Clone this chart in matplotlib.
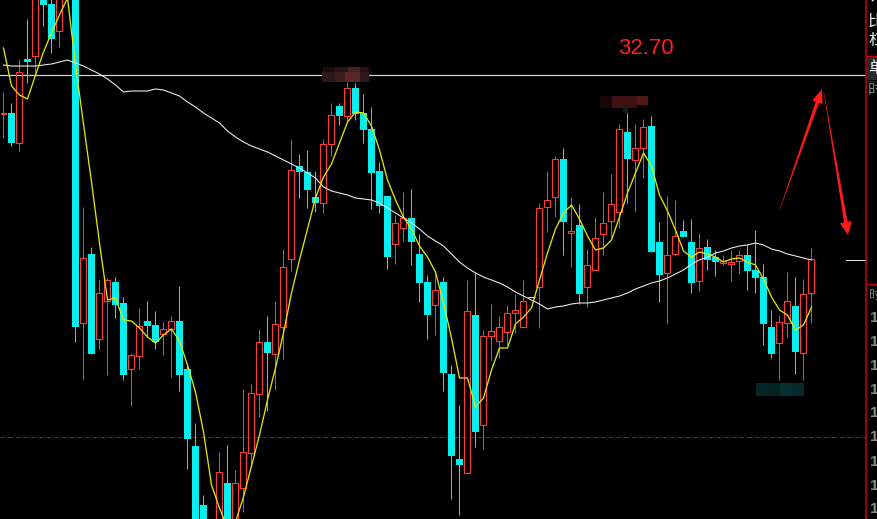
import matplotlib
matplotlib.use('Agg')
import matplotlib.pyplot as plt
from matplotlib.patches import Rectangle, Polygon
import numpy as np

# ---------------- data ----------------
opens = [32.31, 32.32, 32.02, 32.86, 32.89, 33.53, 33.41, 33.14, 33.70, 33.65,
         30.22, 30.91, 30.06, 30.44, 30.63, 30.42, 29.76, 29.89, 30.24, 30.20,
         30.11, 30.16, 30.24, 29.76, 28.99, 28.40, 28.15, 28.05, 28.62, 28.10,
         28.57, 28.92, 29.51, 30.03, 29.91, 30.18, 30.86, 31.79, 31.73, 31.48,
         31.42, 32.01, 32.39, 32.29, 32.57, 32.32, 32.16, 31.74, 31.49, 31.01,
         31.17, 31.27, 30.91, 30.63, 30.40, 30.63, 29.71, 28.86, 28.72, 30.30,
         29.20, 30.09, 30.04, 30.13, 30.32, 30.18, 30.48, 30.58, 31.38, 31.48,
         31.86, 31.12, 31.20, 30.58, 30.75, 31.11, 31.24, 31.33, 32.13, 31.85,
         31.97, 32.19, 31.03, 30.72, 30.91, 31.14, 31.03, 30.64, 30.98, 30.88,
         30.82, 30.81, 30.84, 30.90, 30.75, 30.68, 30.18, 30.02, 30.22, 30.39,
         29.92, 30.52]
highs = [32.53, 32.42, 32.86, 33.26, 33.55, 33.57, 33.48, 33.60, 34.00, 33.70,
         31.38, 30.98, 30.65, 30.67, 30.68, 30.48, 29.92, 30.37, 30.44, 30.34,
         30.23, 30.29, 30.59, 29.82, 29.22, 28.50, 28.20, 28.93, 29.00, 28.75,
         29.56, 29.61, 30.16, 30.29, 30.44, 30.96, 32.06, 31.91, 31.95, 31.74,
         32.06, 32.42, 32.42, 32.63, 32.62, 32.51, 32.38, 31.83, 31.49, 31.30,
         31.53, 31.56, 31.11, 30.70, 30.74, 30.68, 29.80, 29.40, 30.65, 30.73,
         30.15, 30.41, 30.29, 30.40, 30.51, 30.65, 30.48, 31.42, 31.74, 31.89,
         31.97, 31.48, 31.41, 30.96, 31.28, 31.53, 31.71, 32.21, 32.32, 32.21,
         32.26, 32.29, 31.23, 31.49, 31.45, 31.25, 31.26, 31.12, 31.06, 30.95,
         30.90, 30.95, 30.95, 31.00, 31.15, 30.81, 30.35, 30.30, 30.73, 30.68,
         30.66, 30.97]
lows = [32.07, 31.99, 31.94, 32.62, 32.72, 33.19, 32.92, 32.98, 33.60, 30.03,
        29.65, 29.91, 29.96, 29.70, 30.27, 29.65, 29.39, 29.76, 30.08, 29.96,
        29.90, 29.68, 29.54, 28.76, 28.00, 27.97, 27.85, 27.97, 27.95, 28.05,
        28.33, 28.78, 29.28, 29.34, 29.55, 29.86, 30.74, 31.47, 31.37, 31.33,
        31.32, 31.89, 32.20, 32.22, 32.25, 32.02, 31.36, 31.32, 30.76, 30.81,
        31.04, 30.80, 30.43, 30.06, 30.10, 29.54, 28.46, 28.30, 28.72, 28.98,
        28.96, 29.85, 29.87, 30.00, 30.12, 30.18, 30.48, 30.17, 31.13, 31.28,
        30.90, 30.78, 30.41, 30.38, 30.75, 30.90, 31.08, 31.17, 31.42, 31.33,
        31.67, 30.93, 30.43, 30.21, 30.89, 31.08, 30.52, 30.54, 30.75, 30.69,
        30.80, 30.64, 30.71, 30.55, 30.52, 30.00, 29.87, 29.65, 30.08, 29.71,
        29.65, 30.22]
closes = [32.32, 32.02, 32.73, 32.83, 33.50, 33.40, 33.06, 33.53, 33.90, 30.18,
          30.87, 29.91, 30.52, 30.65, 30.40, 29.70, 29.90, 30.19, 30.19, 30.03,
          30.16, 30.24, 29.70, 29.06, 28.10, 28.05, 27.90, 28.73, 28.00, 28.62,
          28.93, 29.52, 30.03, 29.92, 30.21, 30.78, 31.75, 31.73, 31.55, 31.42,
          32.01, 32.30, 32.29, 32.57, 32.31, 32.15, 31.72, 31.39, 30.88, 31.22,
          31.27, 31.03, 30.62, 30.30, 30.55, 29.72, 28.89, 28.80, 30.34, 29.13,
          30.09, 30.14, 30.18, 30.32, 30.35, 30.44, 30.48, 31.37, 31.45, 31.86,
          31.23, 31.14, 30.51, 30.80, 31.07, 31.22, 31.41, 32.16, 31.86, 31.97,
          32.18, 30.93, 30.70, 30.90, 31.09, 31.08, 30.62, 30.97, 30.85, 30.83,
          30.84, 30.83, 30.90, 30.74, 30.67, 30.21, 29.91, 30.23, 30.44, 29.93,
          30.51, 30.86]
ma_short = [32.97, 32.59, 32.50, 32.46, 32.70, 32.93, 33.12, 33.30, 33.47, 32.80,
            32.21, 31.63, 31.02, 30.45, 30.47, 30.25, 30.24, 30.17, 30.08, 30.02,
            30.10, 30.16, 30.04, 29.80, 29.53, 29.13, 28.60, 28.37, 28.17, 28.23,
            28.48, 28.79, 29.10, 29.45, 29.77, 30.12, 30.52, 30.85, 31.16, 31.47,
            31.68, 31.81, 32.02, 32.23, 32.33, 32.32, 32.19, 31.95, 31.65, 31.45,
            31.28, 31.16, 30.99, 30.88, 30.73, 30.42, 30.07, 29.67, 29.67, 29.38,
            29.47, 29.75, 29.97, 29.97, 30.21, 30.28, 30.37, 30.65, 30.92, 31.16,
            31.32, 31.40, 31.26, 31.09, 30.95, 30.97, 31.05, 31.28, 31.52, 31.72,
            31.92, 31.79, 31.50, 31.34, 31.15, 30.94, 30.88, 30.93, 30.91, 30.88,
            30.83, 30.86, 30.87, 30.83, 30.80, 30.66, 30.48, 30.35, 30.30, 30.15,
            30.20, 30.38]
ma_long = [32.80, 32.79, 32.79, 32.79, 32.79, 32.80, 32.81, 32.83, 32.85, 32.82,
           32.79, 32.75, 32.71, 32.66, 32.60, 32.53, 32.54, 32.54, 32.54, 32.56,
           32.55, 32.52, 32.49, 32.43, 32.38, 32.32, 32.27, 32.22, 32.14, 32.08,
           32.03, 31.99, 31.96, 31.93, 31.89, 31.85, 31.81, 31.77, 31.72, 31.67,
           31.58, 31.54, 31.52, 31.50, 31.47, 31.46, 31.45, 31.42, 31.37, 31.32,
           31.27, 31.22, 31.16, 31.09, 31.04, 30.99, 30.91, 30.83, 30.77, 30.72,
           30.68, 30.65, 30.62, 30.58, 30.53, 30.49, 30.45, 30.41, 30.36, 30.38,
           30.39, 30.41, 30.42, 30.42, 30.43, 30.45, 30.47, 30.49, 30.52, 30.56,
           30.59, 30.62, 30.64, 30.67, 30.71, 30.75, 30.81, 30.85, 30.88, 30.92,
           30.94, 30.97, 30.99, 31.00, 31.02, 31.00, 30.96, 30.94, 30.91, 30.89,
           30.87, 30.85]
ref_price = 32.70
ref_label = "32.70"
dash_price = 29.08
side_labels = ["比", "杠", "单", "时"]
side_numbers = ["1"] * 9

# ---------------- figure ----------------
W, H = 878, 519
fig = plt.figure(figsize=(W / 100, H / 100), dpi=100, facecolor='black')
PX = 72 / 100  # one pixel in points

ax = fig.add_axes([0, 0, 866 / W, 1])
ax.set_facecolor('black')
ax.set_xlim(-3.5 / 8, (866 - 3.5) / 8)
ax.set_ylim(28.26, 33.45)
ax.axis('off')

UP = '#ff3c3c'
DOWN = '#00f0f0'
FLAT = '#f0f0f0'

ax.axhline(ref_price, color='#d6d6d6', lw=PX * 1.2, zorder=1)
ax.axhline(dash_price, color='#c80000', lw=PX * 1.1, ls=(0, (4, 3)), zorder=1)

n = len(opens)
for k in range(n):
    o, h, l, c = opens[k], highs[k], lows[k], closes[k]
    if c > o:
        top, bot = c, o
        ax.vlines(k, top, h, color=UP, lw=PX, zorder=2)
        ax.vlines(k, l, bot, color=UP, lw=PX, zorder=2)
        ax.add_patch(Rectangle((k - 0.375, bot), 0.75, top - bot, fill=False,
                               edgecolor=UP, lw=PX * 1.1, zorder=2))
    elif c < o:
        top, bot = o, c
        ax.vlines(k, l, h, color=DOWN, lw=PX, zorder=2)
        ax.add_patch(Rectangle((k - 0.4375, bot), 0.875, max(top - bot, 0.01),
                               facecolor=DOWN, lw=0, zorder=2))
    else:
        ax.vlines(k, l, h, color=FLAT, lw=PX, zorder=2)
        ax.hlines(o, k - 0.4375, k + 0.4375, color=FLAT, lw=PX, zorder=2)

xs = np.arange(n)
ax.plot(xs, ma_long, color='#e8e8e8', lw=PX * 1.1, zorder=3)
ax.plot(xs, ma_short, color='#e6e600', lw=PX * 1.3, zorder=3)

# ---------------- overlay in pixel coordinates (decorations) ----------------
ov = fig.add_axes([0, 0, 1, 1], zorder=5)
ov.set_xlim(0, W)
ov.set_ylim(H, 0)
ov.axis('off')
ov.patch.set_alpha(0)

ov.text(646, 49, ref_label, color='#ff2020', fontsize=16,
        family=['Liberation Sans', 'DejaVu Sans'], ha='center', va='center')

# mosaic blur blocks
cells = [
    (323, 67, 12, 5, '#1c0c0c'), (335, 67, 13, 5, '#2a1414'), (348, 67, 12, 5, '#4a2020'), (360, 67, 9, 5, '#2a1212'),
    (322, 72, 13, 10, '#2e1a1a'), (335, 72, 10, 10, '#3a1e1e'), (345, 72, 15, 10, '#5a2626'), (360, 72, 9, 10, '#2e1818'),
    (600, 96, 12, 12, '#180606'), (612, 96, 25, 12, '#3e1212'), (637, 96, 11, 9, '#521818'),
    (623, 108, 5, 5, '#0a2222'),
    (756, 383, 12, 13, '#062626'), (768, 383, 12, 13, '#042222'), (780, 383, 12, 13, '#073030'), (792, 383, 12, 13, '#062a2a'),
]
for x, y, w, h, col in cells:
    ov.add_patch(Rectangle((x, y), w, h, facecolor=col, lw=0))


def tapered_arrow(x0, y0, x1, y1, w0, w1, hl, hw, color):
    d = np.array([x1 - x0, y1 - y0], dtype=float)
    u = d / np.hypot(*d)
    nrm = np.array([-u[1], u[0]])
    tip = np.array([x1, y1], dtype=float)
    base = tip - u * hl
    p0 = np.array([x0, y0], dtype=float)
    pts = [p0 + nrm * w0 / 2, base + nrm * w1 / 2, base + nrm * hw / 2, tip,
           base - nrm * hw / 2, base - nrm * w1 / 2, p0 - nrm * w0 / 2]
    ov.add_patch(Polygon(pts, closed=True, facecolor=color, lw=0))


tapered_arrow(780, 209, 822, 89, 0.4, 3.5, 14, 11, '#ff1a1a')
tapered_arrow(824, 93, 848, 235, 0.4, 3.5, 13, 12, '#ff1a1a')

# last-price marker
ov.plot([846, 866], [259.5, 259.5], color='#e8e8e8', lw=PX)

# right side panel
ov.plot([866.5, 866.5], [0, H], color='#d00000', lw=PX * 1.5)
ov.add_patch(Rectangle((867, 56), 11, 24, facecolor='#262b2b', lw=0))
ov.plot([867, W], [55.5, 55.5], color='#d00000', lw=PX * 1.2)
ov.plot([867, W], [80.5, 80.5], color='#700000', lw=PX)
ov.plot([867, W], [284, 284], color='#d00000', lw=PX * 1.2)

cjk = ['Noto Sans CJK SC', 'DejaVu Sans']
ov.text(868, -3, "计", color='#e0e0e0', fontsize=11.5, family=cjk, ha='left', va='center')
ys = [21, 41, 68, 90]
cols = ['#e8e8e8', '#e8e8e8', '#f0f0f0', '#808080']
for s, y, col in zip(side_labels, ys, cols):
    ov.text(868, y, s, color=col, fontsize=11.5, family=cjk, ha='left', va='center')
ov.text(869, 295, "时", color='#808080', fontsize=9, family=cjk, ha='left', va='center')

num_y = [318, 342, 366, 390, 413, 437, 462, 486, 509]
for s, y in zip(side_numbers, num_y):
    ov.text(870, y, s, color='#8a8a8a', fontsize=11, weight='bold',
            family=['Liberation Sans', 'DejaVu Sans'], ha='left', va='center')

fig.savefig('out.png', dpi=100, facecolor='black')
